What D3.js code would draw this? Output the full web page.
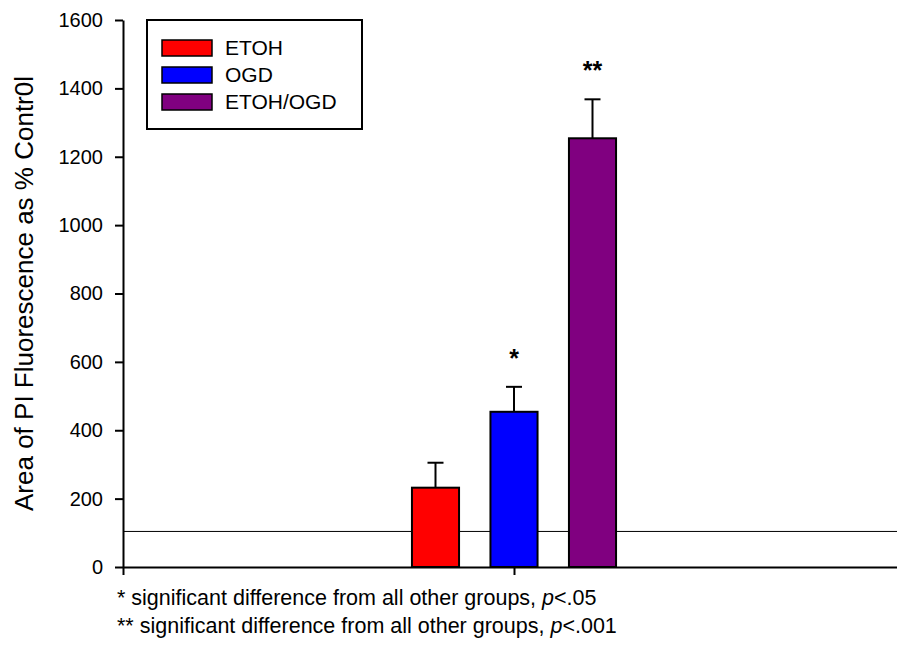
<!DOCTYPE html>
<html>
<head>
<meta charset="utf-8">
<script src="https://cdn.jsdelivr.net/npm/d3@7"></script>
<style>
  html, body { margin: 0; padding: 0; background: #fff; }
  svg { display: block; font-family: "Liberation Sans", Arial, sans-serif; }
</style>
</head>
<body>
<div id="chart"></div>
<script>
// PI fluorescence bar chart
const groups = ['ETOH', 'OGD', 'ETOH/OGD'];
const means = [232, 454, 1254];
const errors = [73, 73, 114];
const stars = ['', '*', '**'];
const colors = ['#ff0000', '#0000ff', '#800080'];
const yTicks = [0, 200, 400, 600, 800, 1000, 1200, 1400, 1600];
const xTicks = [0, 0.5, 1];
const controlLevel = 104;
const yLabel = 'Area of PI Fluorescence as % Contr0l';
const notes = [
  { mark: '* significant difference from all other groups, ', p: '<.05' },
  { mark: '** significant difference from all other groups, ', p: '<.001' }
];

const W = 897, H = 650;
const M = { top: 20, right: -8, bottom: 83, left: 123 };

const svg = d3.select('#chart').append('svg').attr('width', W).attr('height', H);
const g = svg.append('g').attr('transform', `translate(${M.left},${M.top})`);
const innerW = W - M.left - M.right, innerH = H - M.top - M.bottom;

const x = d3.scaleLinear().domain([0, 1]).range([0, innerW]);
const y = d3.scaleLinear().domain([0, 1600]).range([innerH, 0]);

// bars are centred on the middle x tick
const step = 78.5;
const cx = x(0.5);
const band = d3.scaleBand().domain(groups)
  .range([cx - step * 1.5, cx + step * 1.5])
  .paddingInner(0.4).paddingOuter(0.2);

// control reference line
g.append('line')
  .attr('x1', 0).attr('x2', innerW)
  .attr('y1', y(controlLevel)).attr('y2', y(controlLevel))
  .attr('stroke', '#000').attr('stroke-width', 1);

// error bars (upper only)
const eb = g.append('g');
groups.forEach((grp, i) => {
  const mx = band(grp) + band.bandwidth() / 2;
  eb.append('line')
    .attr('x1', mx).attr('x2', mx)
    .attr('y1', y(means[i])).attr('y2', y(means[i] + errors[i]))
    .attr('stroke', '#000').attr('stroke-width', 2);
  eb.append('line')
    .attr('x1', mx - 8).attr('x2', mx + 8)
    .attr('y1', y(means[i] + errors[i])).attr('y2', y(means[i] + errors[i]))
    .attr('stroke', '#000').attr('stroke-width', 2);
  if (stars[i]) {
    eb.append('text')
      .attr('x', mx).attr('y', y(means[i] + errors[i]) - 20)
      .attr('text-anchor', 'middle')
      .style('font-size', '25px').style('font-weight', 'bold')
      .text(stars[i]);
  }
});

g.append('g').selectAll('rect')
  .data(groups)
  .join('rect')
  .attr('x', d => band(d))
  .attr('width', band.bandwidth())
  .attr('y', (d, i) => y(means[i]))
  .attr('height', (d, i) => y(0) - y(means[i]))
  .attr('fill', (d, i) => colors[i])
  .attr('stroke', '#000').attr('stroke-width', 2);

// axes
const yAxis = g.append('g')
  .call(d3.axisLeft(y).tickValues(yTicks).tickFormat(d3.format('d'))
    .tickSize(8).tickSizeOuter(0).tickPadding(12));
yAxis.select('.domain').attr('stroke-width', 2);
yAxis.selectAll('.tick line').attr('stroke-width', 2);
yAxis.selectAll('.tick text')
  .style('font-family', '"Liberation Sans", Arial, sans-serif')
  .style('font-size', '20px').attr('fill', '#000');

const xAxis = g.append('g').attr('transform', `translate(0,${innerH})`)
  .call(d3.axisBottom(x).tickValues(xTicks).tickSize(8).tickSizeOuter(0).tickFormat(''));
xAxis.select('.domain').attr('stroke-width', 2);
xAxis.selectAll('.tick line').attr('stroke-width', 2);

// y axis title
g.append('text')
  .attr('transform', 'rotate(-90)')
  .attr('x', -innerH / 2).attr('y', -90)
  .attr('text-anchor', 'middle')
  .style('font-size', '26px')
  .text(yLabel);

// legend
const lg = svg.append('g').attr('transform', 'translate(147,20)');
lg.append('rect').attr('width', 215).attr('height', 109)
  .attr('fill', '#fff').attr('stroke', '#000').attr('stroke-width', 2);
groups.forEach((grp, i) => {
  const row = lg.append('g').attr('transform', `translate(15,${20 + i * 27})`);
  row.append('rect').attr('width', 50).attr('height', 16)
    .attr('fill', colors[i]).attr('stroke', '#000').attr('stroke-width', 1.5);
  row.append('text').attr('x', 63).attr('y', 15)
    .style('font-size', '21px').text(grp);
});

// footnotes
notes.forEach((n, i) => {
  const t = svg.append('text')
    .attr('x', 117).attr('y', 605 + i * 28)
    .style('font-size', '21.5px');
  t.append('tspan').text(n.mark);
  t.append('tspan').style('font-style', 'italic').text('p');
  t.append('tspan').text(n.p);
});
</script>
</body>
</html>
